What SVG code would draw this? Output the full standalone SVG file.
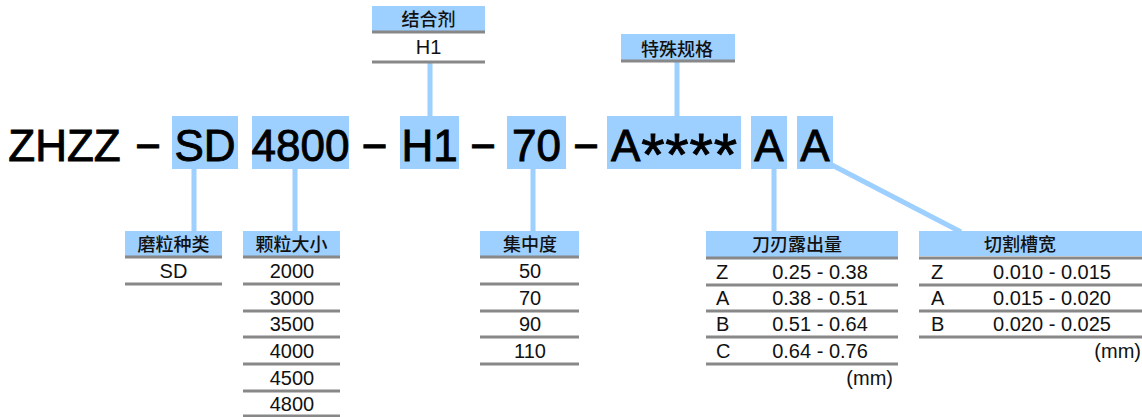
<svg xmlns="http://www.w3.org/2000/svg" width="1142" height="417" viewBox="0 0 1142 417">
<style>
.hl{fill:#9dcfff}
.big{font-family:"Liberation Sans",Arial,sans-serif;font-size:44px;fill:#000;stroke:#000;stroke-width:0.9;text-anchor:middle}
.t{font-family:"Liberation Sans",Arial,sans-serif;font-size:20px;fill:#111;text-anchor:middle}
.tl{font-family:"Liberation Sans",Arial,sans-serif;font-size:20px;fill:#111}
.tr{font-family:"Liberation Sans",Arial,sans-serif;font-size:20px;fill:#111;text-anchor:end}
.h{font-family:"Liberation Sans","Noto Sans CJK SC",sans-serif;font-size:18px;font-weight:500;fill:#111;text-anchor:middle}
.rule{stroke:#888;stroke-width:3}
.con{stroke:#9dcfff;stroke-width:5;fill:none}
</style>
<rect width="1142" height="417" fill="#fff"/>
<g id="connectors">
<line class="con" x1="430" y1="62" x2="430" y2="117"/>
<line class="con" x1="677" y1="62" x2="677" y2="117"/>
<line class="con" x1="194" y1="168" x2="194" y2="232"/>
<line class="con" x1="295" y1="168" x2="295" y2="232"/>
<line class="con" x1="533" y1="168" x2="533" y2="232"/>
<line class="con" x1="774" y1="168" x2="774" y2="232"/>
<line class="con" x1="830" y1="164" x2="961" y2="232"/>
</g>
<g id="code">
<rect class="hl" x="172" y="116" width="66" height="53"/>
<rect class="hl" x="252" y="116" width="97" height="53"/>
<rect class="hl" x="400" y="116" width="59" height="53"/>
<rect class="hl" x="507" y="116" width="59" height="53"/>
<rect class="hl" x="607" y="116" width="134" height="53"/>
<rect class="hl" x="751" y="116" width="36" height="53"/>
<rect class="hl" x="797" y="116" width="36" height="53"/>
<text class="big" x="64.5" y="161">ZHZZ</text>
<text class="big" x="148" y="161">−</text>
<text class="big" x="205" y="161">SD</text>
<text class="big" x="300.5" y="161">4800</text>
<text class="big" x="374.5" y="161">−</text>
<text class="big" x="429.5" y="161">H1</text>
<text class="big" x="483" y="161">−</text>
<text class="big" x="536.5" y="161">70</text>
<text class="big" x="586" y="161">−</text>
<text class="big" x="674" y="161" textLength="126" lengthAdjust="spacing">A<tspan font-size="60" dy="14">****</tspan></text>
<text class="big" x="769" y="161">A</text>
<text class="big" x="815" y="161">A</text>
</g>
<g id="binder">
<rect class="hl" x="372" y="6" width="113" height="26"/>
<text class="h" x="428.5" y="26">结合剂</text>
<line class="rule" x1="372" y1="32" x2="485" y2="32"/>
<text class="t" x="428.5" y="54">H1</text>
<line class="rule" x1="372" y1="62" x2="485" y2="62"/>
</g>
<g id="special">
<rect class="hl" x="621" y="34" width="114" height="27"/>
<text class="h" x="677" y="56">特殊规格</text>
<line class="rule" x1="621" y1="61" x2="735" y2="61"/>
</g>
<g id="abrasive">
<rect class="hl" x="125" y="231" width="97" height="25"/>
<text class="h" x="173.5" y="251">磨粒种类</text>
<line class="rule" x1="125" y1="257" x2="222" y2="257"/>
<text class="t" x="173.5" y="278">SD</text>
<line class="rule" x1="125" y1="284" x2="222" y2="284"/>
</g>
<g id="grain">
<rect class="hl" x="243" y="231" width="97" height="25"/>
<text class="h" x="291.5" y="251">颗粒大小</text>
<line class="rule" x1="243" y1="257" x2="340" y2="257"/>
<text class="t" x="292" y="278">2000</text>
<line class="rule" x1="243" y1="284" x2="340" y2="284"/>
<text class="t" x="292" y="305">3000</text>
<line class="rule" x1="243" y1="311" x2="340" y2="311"/>
<text class="t" x="292" y="331">3500</text>
<line class="rule" x1="243" y1="337" x2="340" y2="337"/>
<text class="t" x="292" y="358">4000</text>
<line class="rule" x1="243" y1="364" x2="340" y2="364"/>
<text class="t" x="292" y="385">4500</text>
<line class="rule" x1="243" y1="391" x2="340" y2="391"/>
<text class="t" x="292" y="411">4800</text>
<line class="rule" x1="243" y1="416" x2="340" y2="416"/>
</g>
<g id="concentration">
<rect class="hl" x="480" y="231" width="99" height="25"/>
<text class="h" x="530" y="251">集中度</text>
<line class="rule" x1="480" y1="257" x2="579" y2="257"/>
<text class="t" x="530" y="278">50</text>
<line class="rule" x1="480" y1="284" x2="579" y2="284"/>
<text class="t" x="530" y="305">70</text>
<line class="rule" x1="480" y1="311" x2="579" y2="311"/>
<text class="t" x="530" y="331">90</text>
<line class="rule" x1="480" y1="337" x2="579" y2="337"/>
<text class="t" x="530" y="358">110</text>
<line class="rule" x1="480" y1="364" x2="579" y2="364"/>
</g>
<g id="exposure">
<rect class="hl" x="706" y="231" width="192" height="26"/>
<text class="h" x="797" y="251">刀刃露出量</text>
<line class="rule" x1="706" y1="258" x2="898" y2="258"/>
<text class="tl" x="716" y="279">Z</text>
<text class="t" x="820" y="279">0.25 - 0.38</text>
<line class="rule" x1="706" y1="285" x2="898" y2="285"/>
<text class="tl" x="716" y="305">A</text>
<text class="t" x="820" y="305">0.38 - 0.51</text>
<line class="rule" x1="706" y1="311" x2="898" y2="311"/>
<text class="tl" x="716" y="331">B</text>
<text class="t" x="820" y="331">0.51 - 0.64</text>
<line class="rule" x1="706" y1="337" x2="898" y2="337"/>
<text class="tl" x="716" y="358">C</text>
<text class="t" x="820" y="358">0.64 - 0.76</text>
<line class="rule" x1="706" y1="364" x2="898" y2="364"/>
<text class="tr" x="893" y="385">(mm)</text>
</g>
<g id="kerf">
<rect class="hl" x="919" y="231" width="223" height="25"/>
<text class="h" x="1020" y="251">切割槽宽</text>
<line class="rule" x1="919" y1="258" x2="1142" y2="258"/>
<text class="tl" x="931" y="279">Z</text>
<text class="t" x="1052" y="279">0.010 - 0.015</text>
<line class="rule" x1="919" y1="285" x2="1142" y2="285"/>
<text class="tl" x="931" y="305">A</text>
<text class="t" x="1052" y="305">0.015 - 0.020</text>
<line class="rule" x1="919" y1="311" x2="1142" y2="311"/>
<text class="tl" x="931" y="331">B</text>
<text class="t" x="1052" y="331">0.020 - 0.025</text>
<line class="rule" x1="919" y1="337" x2="1142" y2="337"/>
<text class="tr" x="1141" y="358">(mm)</text>
</g>
</svg>
